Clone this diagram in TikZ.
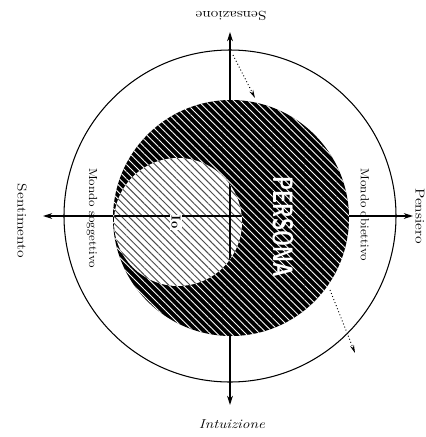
\documentclass[tikz,border=0pt]{standalone}
\usepackage{graphicx}
\usetikzlibrary{arrows.meta, patterns.meta}
\newcommand{\wider}[2][1.2]{\scalebox{#1}[1]{#2}}

\begin{document}
\begin{tikzpicture}[x=0.03cm, y=-0.03cm,
  axis/.style={line width=0.9pt, -{Stealth[length=8pt, width=5pt]}},
  ring/.style={line width=0.9pt},
  flow/.style={dotted, line width=0.8pt, -{Stealth[length=7pt, width=3.5pt]}},
  function/.style={font=\fontsize{11}{13}\selectfont, inner sep=1pt},
  world/.style={font=\fontsize{10}{12}\selectfont, rotate=-90, inner sep=1pt},
  persona/.style={font=\sffamily\bfseries\fontsize{24}{24}\selectfont, text=white,
                  rotate=-90, inner sep=0pt},
]
\useasboundingbox (0,0) rectangle (426,437);

\coordinate (O) at (230,216);
\coordinate (N) at (230,32);
\coordinate (S) at (230,405);
\coordinate (W) at (43,216);
\coordinate (E) at (413,216);
\coordinate (P) at (231,218);
\coordinate (I) at (178,222);

\draw[axis] (O) -- (N);
\draw[axis] (O) -- (S);
\draw[axis] (O) -- (W);
\draw[axis] (O) -- (E);
\draw[ring] (O) circle[radius=166];

\fill[black] (P) circle[radius=118];
\fill[pattern={Lines[angle=-45, distance=4.3pt, line width=0.75pt]}, pattern color=white]
  (P) circle[radius=118];
\fill[white] (I) circle[radius=64];
\fill[pattern={Lines[angle=-45, distance=4.3pt, line width=0.8pt]}, pattern color=black!70]
  (I) circle[radius=64];
\begin{scope}
  \clip (I) circle[radius=64];
  \draw[line width=0.9pt] (W) -- (E);
  \draw[line width=0.9pt] (N) -- (S);
\end{scope}

\node[world, font=\bfseries\fontsize{11}{13}\selectfont, fill=white] (io) at (176,222) {Io};
\node[persona] (persona) at (283,227) {\scalebox{0.72}[1]{PERSONA}};

\coordinate (in1) at (233,55);
\coordinate (in2) at (255,98);
\coordinate (out1) at (330,290);
\coordinate (out2) at (355,353);
\draw[flow] (in1) -- (in2);
\draw[flow] (out1) -- (out2);

\node[function, rotate=180] (sensazione) at (231,16) {\wider{Sensazione}};
\node[function, font=\itshape\fontsize{11}{13}\selectfont] (intuizione) at (232,424) {\wider{Intuizione}};
\node[function, rotate=-90] (sentimento) at (22,221) {\wider{Sentimento}};
\node[function, rotate=-90, inner sep=0pt] (pensiero) at (420,216) {\wider{Pensiero}};
\node[world] (soggettivo) at (92,218) {\wider[1.1]{Mondo soggettivo}};
\node[world] (obiettivo) at (365,215) {\wider[1.1]{Mondo obiettivo}};

\end{tikzpicture}
\end{document}
